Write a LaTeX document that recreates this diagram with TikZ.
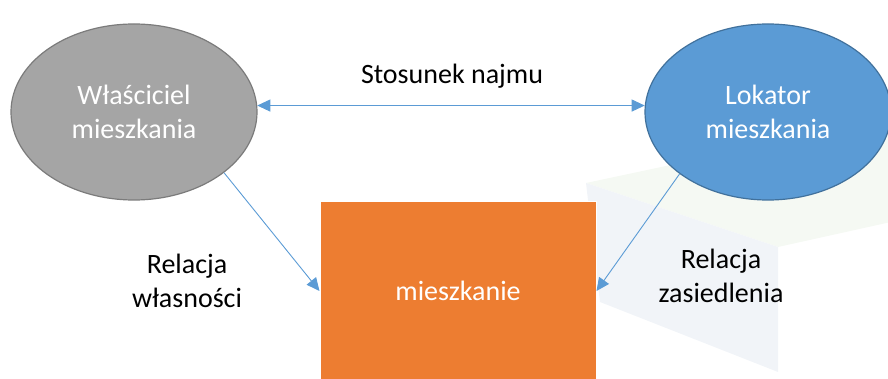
\documentclass[tikz,border=0pt]{standalone}
\usepackage{fontspec}
\setmainfont{Carlito}
\usetikzlibrary{shapes.geometric,arrows.meta}
\definecolor{officeblue}{HTML}{5B9BD5}
\definecolor{blueedge}{HTML}{41719C}
\definecolor{grayfill}{HTML}{A5A5A5}
\definecolor{grayedge}{HTML}{7B7B7B}
\definecolor{orangefill}{HTML}{ED7D31}
\definecolor{boxfront}{HTML}{F1F4F8}
\definecolor{boxtop}{HTML}{F5F9F3}
\tikzset{
  party/.style={ellipse,minimum width=246pt,minimum height=176pt,inner sep=0pt,
    line width=1.2pt,text=white,align=center,font=\fontsize{28}{34}\selectfont},
  flatbox/.style={rectangle,fill=orangefill,draw=white,line width=1pt,
    minimum width=276pt,minimum height=178pt,text=white,font=\fontsize{28}{34}\selectfont},
  rellabel/.style={align=center,font=\fontsize{28}{34}\selectfont},
  relation/.style={draw=officeblue,line width=0.9pt},
  tip/.tip={Triangle[length=13pt,width=12pt]}
}
\begin{document}
\begin{tikzpicture}[x=1pt,y=-1pt]
      \useasboundingbox (0,0) rectangle (888,379);
      \fill[boxtop] (586,183) -- (680,163) -- (900,117) -- (900,220) -- (778,247) -- cycle;
      \fill[boxfront] (586,183) -- (778,247) -- (778,372) -- (600,302) -- cycle;
      \draw
        (134,112) node[party,fill=grayfill,draw=grayedge] (owner){Właściciel\\mieszkania}
        (768,112) node[party,fill=officeblue,draw=blueedge] (tenant){Lokator\\mieszkania}
        (458,291) node[flatbox] (flat){mieszkanie}
        (452,76) node[rellabel] (lease){Stosunek najmu}
        (187,281) node[rellabel] (ownership){Relacja\\własności}
        (721,276) node[rellabel] (residence){Relacja\\zasiedlenia};
      \begin{scope}[relation]
        \draw[tip-tip] (owner.3) to (tenant.177);
        \draw[-tip] (owner.-34) to (flat.west);
        \draw[-tip] (tenant.215) to (flat.east);
      \end{scope}
    \end{tikzpicture}
\end{document}
